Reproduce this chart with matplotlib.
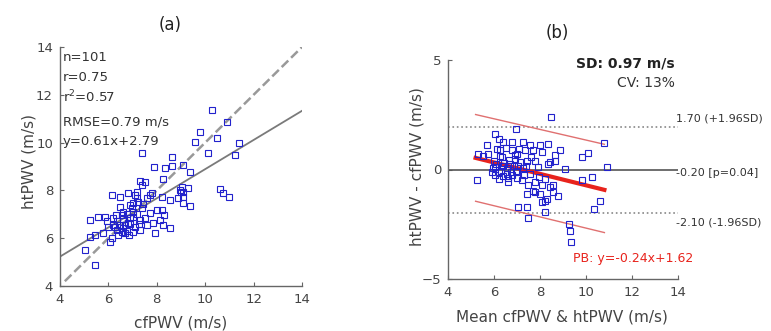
import numpy as np
import matplotlib
matplotlib.use("Agg")
import matplotlib.pyplot as plt

# (a) cfPWV vs htPWV
cf_pwv = [10.27, 10.92, 9.79, 10.47, 9.58, 11.39, 10.10, 11.23, 7.37, 8.61,
          7.87, 8.34, 8.61, 9.10, 9.37, 8.27, 7.51, 7.31, 9.03, 9.30,
          9.10, 8.96, 10.61, 10.75, 10.98, 9.10, 8.89, 9.10, 9.37, 8.55,
          8.20, 7.72, 7.37, 7.79, 6.14, 6.48, 6.82, 7.17, 7.24, 6.89,
          6.48, 6.62, 7.03, 7.37, 7.72, 8.00, 8.13, 7.86, 8.27, 8.55,
          7.93, 7.58, 5.24, 5.58, 5.86, 6.20, 5.45, 5.24, 5.03, 5.45,
          6.20, 6.34, 6.62, 6.82, 7.10, 7.31, 6.89, 6.14, 6.07, 6.41,
          6.69, 7.03, 7.31, 5.79, 7.10, 7.17, 7.03, 6.96, 6.75, 6.55,
          6.35, 6.28, 6.48, 6.70, 6.90, 7.00, 6.75, 6.55, 6.85, 7.20,
          7.45, 7.60, 6.00, 5.95, 6.30, 6.62, 7.25, 7.50, 8.20, 8.30,
          9.00]
ht_pwv = [11.36, 10.87, 10.46, 10.18, 10.04, 9.98, 9.58, 9.50, 9.58, 9.41,
          8.99, 8.92, 9.04, 9.06, 8.76, 8.46, 8.36, 8.40, 8.15, 8.09,
          7.95, 8.02, 8.04, 7.88, 7.73, 7.74, 7.67, 7.46, 7.35, 7.60,
          7.74, 7.81, 8.23, 7.88, 7.81, 7.74, 7.88, 7.95, 7.53, 7.39,
          7.32, 7.11, 7.11, 7.25, 7.04, 7.18, 6.76, 6.62, 6.55, 6.41,
          6.20, 6.55, 6.76, 6.90, 6.90, 6.83, 6.13, 6.06, 5.51, 4.88,
          6.55, 6.34, 6.41, 6.62, 6.48, 6.76, 6.83, 6.00, 5.85, 6.13,
          6.20, 6.27, 6.34, 6.20, 7.80, 7.67, 7.46, 7.25, 7.00, 6.95,
          6.70, 6.48, 6.55, 6.55, 6.60, 6.90, 6.30, 6.25, 6.15, 7.00,
          7.45, 7.70, 6.45, 6.70, 6.95, 6.80, 6.60, 6.85, 7.20, 6.95,
          7.95]
identity_x = [4.2, 14.0]
identity_y = [4.2, 14.0]
fit_x = [4.0, 14.0]
fit_y = [5.23, 11.33]
stats_a = ["n=101", "r=0.75", "r$^2$=0.57", "RMSE=0.79 m/s", "y=0.61x+2.79"]
stats_a_y = [13.58, 12.74, 11.9, 10.86, 10.03]

# (b) Bland-Altman, values
ba_mean = [8.48, 6.94, 6.04, 6.20, 5.68, 6.41, 7.28, 7.57, 8.00, 8.36,
           5.32, 5.75, 6.26, 6.77, 6.99, 7.35, 7.71, 8.07, 8.87, 6.33,
           6.91, 7.42, 7.78, 8.65, 8.36, 6.04, 6.41, 6.70, 7.06, 5.90,
           6.20, 6.55, 6.77, 6.99, 5.25, 6.20, 6.62, 7.20, 7.49, 7.78,
           8.07, 7.42, 7.71, 8.00, 8.43, 8.58, 8.29, 8.07, 7.06, 7.42,
           8.22, 7.49, 10.78, 8.65, 10.10, 9.81, 8.44, 10.90, 9.09, 9.81,
           10.28, 8.58, 8.80, 8.22, 10.61, 10.35, 9.25, 9.30, 9.35, 5.95,
           6.10, 6.30, 6.45, 6.55, 6.65, 6.85, 6.95, 7.15, 7.25, 6.40,
           6.60, 6.05, 6.25, 6.90, 7.10, 6.50, 6.00, 7.40, 7.55, 7.00,
           6.35, 6.75, 7.60, 7.90, 7.95, 6.15, 5.50, 7.30, 7.80, 6.80,
           8.20]
ba_diff = [2.39, 1.86, 1.63, 1.40, 1.10, 1.24, 1.24, 1.10, 1.10, 1.17,
           0.72, 0.72, 0.87, 0.87, 0.72, 0.87, 0.87, 0.79, 0.87, 0.56,
           0.49, 0.41, 0.38, 0.41, 0.26, 0.11, 0.18, 0.26, 0.18, -0.12,
           -0.12, -0.20, -0.27, -0.12, -0.47, -0.43, -0.58, -0.50, -0.73, -0.58,
           -0.73, -1.11, -0.96, -1.11, -0.81, -1.04, -1.34, -1.49, -1.69, -1.72,
           -1.95, -2.21, 1.20, 0.64, 0.75, 0.57, 0.34, 0.10, 0.03, -0.47,
           -0.35, -0.73, -1.19, -1.42, -1.42, -1.80, -2.50, -2.80, -3.30, 0.05,
           0.25, -0.05, 0.30, 0.05, 0.45, 0.15, -0.05, 0.35, 0.05, -0.30,
           -0.40, -0.25, 0.60, 0.65, 0.95, 1.00, 0.40, 0.15, -0.20, -0.40,
           0.15, -0.10, 0.55, 0.10, -0.35, 0.95, 0.60, -0.25, -1.05, 1.25,
           -0.45]
loa_upper = 1.92
loa_lower = -2.0
pb_x = [5.2, 10.8]
pb_y = [0.53, -0.93]
pb_upper = [2.51, 1.15]
pb_lower = [-1.45, -2.88]
side_labels = ["1.70 (+1.96SD)", "-0.20 [p=0.04]", "-2.10 (-1.96SD)"]
side_labels_y = [2.33, -0.14, -2.42]

W, H = 771, 331
fig = plt.figure(figsize=(W / 100, H / 100), dpi=100)
axis_col = "#666666"
text_col = "#333333"
blue = "#2222cc"


def style(ax):
    for s in ["top", "right"]:
        ax.spines[s].set_visible(False)
    for s in ["left", "bottom"]:
        ax.spines[s].set_color(axis_col)
        ax.spines[s].set_linewidth(1.0)
    ax.tick_params(direction="in", length=3, color=axis_col, labelcolor="#444444",
                   labelsize=9.5, pad=5)


# panel (a)
ax1 = fig.add_axes([60 / W, 1 - 286 / H, 242 / W, 239 / H])
ax1.plot(identity_x, identity_y, ls="--", color="#999999", lw=1.8)
ax1.plot(fit_x, fit_y, color="#7a7a7a", lw=1.3)
ax1.plot(cf_pwv, ht_pwv, ls="none", marker="s", ms=4, mfc="none", mec=blue, mew=0.8)
ax1.set_xlim(4, 14)
ax1.set_ylim(4, 14)
ax1.set_xticks(np.arange(4, 15, 2))
ax1.set_yticks(np.arange(4, 15, 2))
style(ax1)
for t, yy in zip(stats_a, stats_a_y):
    ax1.text(4.12, yy, t, va="center", ha="left", fontsize=9.5, color=text_col)

fig.text(170 / W, 1 - 25 / H, "(a)", ha="center", va="center", fontsize=12, color="#222222")
fig.text(181 / W, 1 - 323 / H, "cfPWV (m/s)", ha="center", va="center", fontsize=11, color="#444444")
fig.text(29 / W, 1 - 162 / H, "htPWV (m/s)", ha="center", va="center", rotation=90,
         fontsize=11, color="#444444")

# panel (b)
ax2 = fig.add_axes([448 / W, 1 - 279 / H, 230 / W, 219 / H])
ax2.axhline(0, color="#555555", lw=1.2)
ax2.axhline(loa_upper, color="#888888", lw=1.2, ls=":")
ax2.axhline(loa_lower, color="#888888", lw=1.2, ls=":")
ax2.plot(pb_x, pb_upper, color="#e07070", lw=1.0)
ax2.plot(pb_x, pb_lower, color="#e07070", lw=1.0)
ax2.plot(pb_x, pb_y, color="#e8231c", lw=3)
ax2.plot(ba_mean, ba_diff, ls="none", marker="s", ms=4, mfc="none", mec=blue, mew=0.8)
ax2.set_xlim(4, 14)
ax2.set_ylim(-5, 5)
ax2.set_xticks(np.arange(4, 15, 2))
ax2.set_yticks([-5, 0, 5])
style(ax2)
ax2.text(13.87, 4.84, "SD: 0.97 m/s", ha="right", va="center", fontsize=10,
         fontweight="bold", color="#222222")
ax2.text(13.87, 3.93, "CV: 13%", ha="right", va="center", fontsize=10, color=text_col)
ax2.text(9.43, -4.06, "PB: y=-0.24x+1.62", ha="left", va="center", fontsize=9,
         color="#e8231c")
for t, yy in zip(side_labels, side_labels_y):
    ax2.text(13.9, yy, t, ha="left", va="center", fontsize=8, color=text_col, clip_on=False)

fig.text(557 / W, 1 - 33 / H, "(b)", ha="center", va="center", fontsize=12, color="#222222")
fig.text(562 / W, 1 - 317 / H, "Mean cfPWV & htPWV (m/s)", ha="center", va="center",
         fontsize=11, color="#444444")
fig.text(417 / W, 1 - 167 / H, "htPWV - cfPWV (m/s)", ha="center", va="center", rotation=90,
         fontsize=11, color="#444444")

fig.savefig("out.png", dpi=100)
